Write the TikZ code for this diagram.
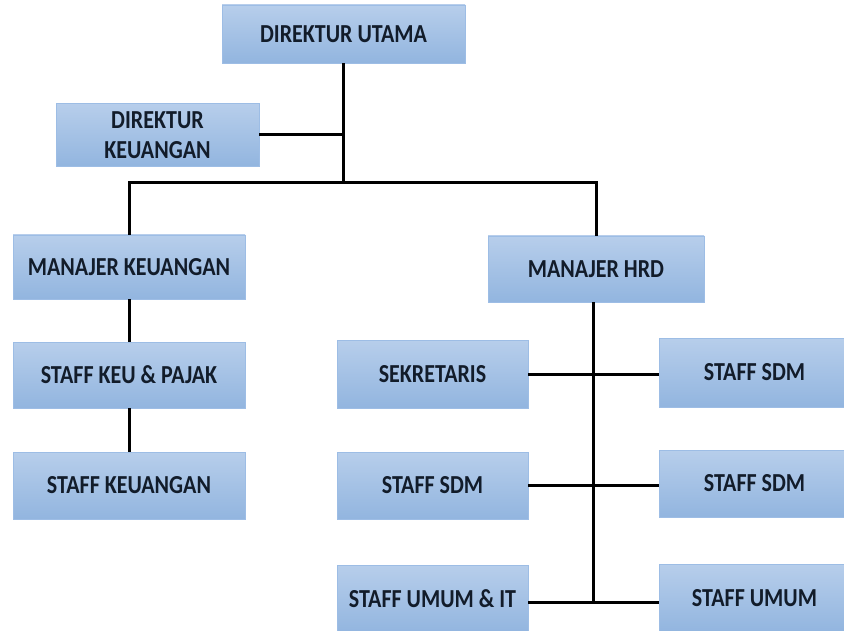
\documentclass[tikz,border=0pt]{standalone}
\usepackage{fontspec}
\usepackage{graphicx}
\setmainfont{Carlito}
\definecolor{boxtop}{HTML}{B7CEEB}
\definecolor{boxbot}{HTML}{92B5DF}
\definecolor{boxedge}{HTML}{9DBDE5}
\definecolor{txt}{HTML}{121C2A}
\newcommand{\vtxt}[1]{\scalebox{1}[1.18]{#1}}
\tikzset{
  orgbox/.style={rectangle, draw=boxedge, line width=0.8pt, top color=boxtop, bottom color=boxbot,
    inner sep=0pt, align=center, text=txt,
    font=\fontsize{22}{30}\selectfont\bfseries},
  link/.style={line width=3pt, black}
}
\begin{document}
\begin{tikzpicture}[x=1pt,y=-1pt]
\useasboundingbox (0,0) rectangle (844,631);
\clip (0,0) rectangle (844,631);
% nodes
\node[orgbox, minimum width=243pt, minimum height=58pt] (du) at (343.5,34) {\vtxt{DIREKTUR UTAMA}};
\node[orgbox, minimum width=203pt, minimum height=63pt] (dk) at (157.5,135) {\vtxt{DIREKTUR}\\\vtxt{KEUANGAN}};
\node[orgbox, minimum width=232pt, minimum height=64pt] (mk) at (129,267) {\vtxt{MANAJER KEUANGAN}};
\node[orgbox, minimum width=216pt, minimum height=66pt] (mh) at (596,269) {\vtxt{MANAJER HRD}};
\node[orgbox, minimum width=232pt, minimum height=66pt] (skp) at (129,375) {\vtxt{STAFF KEU \& PAJAK}};
\node[orgbox, minimum width=232pt, minimum height=67pt] (sk) at (129,485.5) {\vtxt{STAFF KEUANGAN}};
\node[orgbox, minimum width=191pt, minimum height=68pt] (sek) at (432.5,374) {\vtxt{SEKRETARIS}};
\node[orgbox, minimum width=191pt, minimum height=69pt] (sdm1) at (754.5,372.5) {\vtxt{STAFF SDM}};
\node[orgbox, minimum width=191pt, minimum height=67pt] (sdm2) at (432.5,485.5) {\vtxt{STAFF SDM}};
\node[orgbox, minimum width=191pt, minimum height=67pt] (sdm3) at (754.5,483.5) {\vtxt{STAFF SDM}};
\node[orgbox, minimum width=191pt, minimum height=68pt] (uit) at (432.5,599) {\vtxt{STAFF UMUM \& IT}};
\node[orgbox, minimum width=191pt, minimum height=68pt] (um) at (754.5,598) {\vtxt{STAFF UMUM}};
% junctions
\coordinate (jtop) at (343.5,183);
\coordinate (hend) at (593,602);
% connectors
\draw[link] (du.south) -- (jtop);
\draw[link] (dk.east) -- (dk.east -| du.south);
\draw[link] (mk.north) |- (jtop) -| (mh.north);
\draw[link] (mk.south) -- (skp.north);
\draw[link] (skp.south) -- (sk.north);
\draw[link] (mh.south -| hend) -- (hend);
\draw[link] (sek.east) -- (sdm1.west |- sek.east);
\draw[link] (sdm2.east) -- (sdm3.west |- sdm2.east);
\draw[link] (uit.east |- hend) -- (um.west |- hend);
\end{tikzpicture}
\end{document}
